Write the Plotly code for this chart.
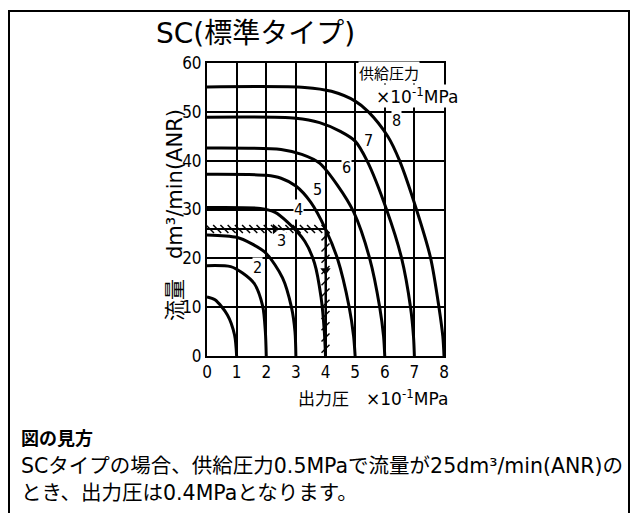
import plotly.graph_objects as go
import numpy as np

# ---- data ----
supply_labels = ["1", "2", "3", "4", "5", "6", "7", "8"]

c1_x = [0, 0.27, 0.69, 0.93, 1.0]
c1_y = [12.1, 11.5, 8.4, 4.3, 0]
c2_x = [0, 0.8, 1.2, 1.6, 1.88, 1.97, 2.0]
c2_y = [18.5, 18.3, 17.0, 14.8, 10.2, 5.0, 0]
c3_x = [0, 1.0, 1.5, 2.0, 2.55, 2.85, 2.97, 3.0]
c3_y = [24.8, 24.3, 23.0, 21.0, 16.0, 10.0, 5.0, 0]
c4_x = [0, 1.8, 2.3, 2.7, 3.3, 3.63, 3.85, 3.96, 4.0]
c4_y = [30.4, 30.2, 29.4, 27.5, 23.5, 19.0, 12.0, 5.0, 0]
c5_x = [0, 2.0, 2.5, 3.0, 3.5, 4.0, 4.4, 4.8, 4.95, 5.0]
c5_y = [37.2, 37.0, 36.4, 34.8, 31.5, 26.0, 20.0, 10.0, 4.0, 0]
c6_x = [0, 2.5, 3.2, 3.8, 4.4, 4.95, 5.49, 5.83, 5.96, 6.0]
c6_y = [42.6, 42.3, 41.3, 39.5, 35.0, 29.5, 20.0, 10.0, 4.0, 0]
c7_x = [0, 3.0, 3.8, 4.5, 5.0, 5.4, 6.06, 6.57, 6.87, 6.97, 7.0]
c7_y = [48.9, 48.7, 47.8, 46.0, 44.0, 40.0, 30.0, 20.0, 10.0, 4.0, 0]
c8_x = [0, 3.3, 4.2, 5.0, 5.45, 6.1, 6.5, 7.07, 7.55, 7.83, 7.96, 8.0]
c8_y = [55.1, 55.0, 54.2, 52.2, 50.0, 45.0, 40.0, 30.0, 20.0, 10.0, 4.0, 0]

curve_xs = [c1_x, c2_x, c3_x, c4_x, c5_x, c6_x, c7_x, c8_x]
curve_ys = [c1_y, c2_y, c3_y, c4_y, c5_y, c6_y, c7_y, c8_y]

# curve number label positions
label_x = [None, 1.72, 2.52, 3.1, 3.73, 4.7, 5.45, 6.4]
label_y = [None, 18.2, 23.7, 29.9, 34.0, 38.7, 44.2, 48.3]

# example reading path (flow 25 -> output pressure 0.4 MPa)
example_x = [0, 4, 4]
example_y = [26, 26, 0]

x_ticks = [0, 1, 2, 3, 4, 5, 6, 7, 8]
y_ticks = [0, 10, 20, 30, 40, 50, 60]

NARROW = "Liberation Sans Narrow, DejaVu Sans Condensed, Arial Narrow, sans-serif"
JP = "DejaVu Sans, Noto Sans CJK JP, sans-serif"
JPN = "Noto Sans CJK JP, sans-serif"

# page body has an 8px margin in the browser
OFF = 8
W, H = 639 - OFF, 513 - OFF
PL, PR, PT, PB = 207 - OFF, 444 - OFF, 63 - OFF, 356 - OFF   # plot area in figure px


def px(xp):
    return (xp - OFF - PL) / (PR - PL)


def py(yp):
    return (PB - (yp - OFF)) / (PB - PT)


fig = go.Figure()

for xs, ys in zip(curve_xs, curve_ys):
    fig.add_trace(go.Scatter(x=xs, y=ys, mode="lines",
                             line=dict(color="black", width=3, shape="spline", smoothing=0.8),
                             cliponaxis=False, showlegend=False, hoverinfo="skip"))

# example path line
fig.add_trace(go.Scatter(x=example_x, y=example_y, mode="lines",
                         line=dict(color="black", width=2),
                         cliponaxis=False, showlegend=False, hoverinfo="skip"))
# hatch ticks along the path
hx = np.linspace(example_x[0] + 0.1, example_x[1], 17)
fig.add_trace(go.Scatter(x=hx, y=[example_y[0]] * len(hx), mode="markers",
                         marker=dict(symbol="line-nw", size=8, line=dict(color="black", width=1.5)),
                         cliponaxis=False, showlegend=False, hoverinfo="skip"))
vy = np.linspace(example_y[1] - 1.5, 1.5, 11)
fig.add_trace(go.Scatter(x=[example_x[1]] * len(vy), y=vy, mode="markers",
                         marker=dict(symbol="line-ne", size=8, line=dict(color="black", width=1.5)),
                         cliponaxis=False, showlegend=False, hoverinfo="skip"))
# arrow heads
fig.add_trace(go.Scatter(x=[2.3], y=[example_y[0]], mode="markers",
                         marker=dict(symbol="triangle-right", size=9, color="black"),
                         showlegend=False, hoverinfo="skip"))
fig.add_trace(go.Scatter(x=[example_x[1]], y=[17.5], mode="markers",
                         marker=dict(symbol="triangle-down", size=9, color="black"),
                         showlegend=False, hoverinfo="skip"))

annotations = []
for lab, lx, ly in zip(supply_labels, label_x, label_y):
    if lx is None:
        continue
    annotations.append(dict(x=lx, y=ly, text=lab, showarrow=False,
                            xanchor="center", yanchor="middle",
                            font=dict(family=NARROW, size=16, color="black"),
                            bgcolor="white", borderpad=0))


def note(xp, yp, text, family, size, xanchor="center", **kw):
    return dict(x=px(xp), y=py(yp), xref="paper", yref="paper", text=text,
                showarrow=False, xanchor=xanchor, yanchor="middle",
                font=dict(family=family, size=size, color="black"), **kw)


annotations += [
    note(255, 33, "SC(標準タイプ)", JP, 28),
    note(389, 72, "供給圧力", JPN, 15, bgcolor="white", borderpad=0),
    note(375, 96, "×10<sup>-1</sup>MPa", JP, 17, xanchor="left", bgcolor="white", borderpad=0),
    note(175, 215, "流量   dm³/min(ANR)", JP, 21, textangle=-90),
    note(296, 398, "出力圧　×10<sup>-1</sup>MPa", JP, 17, xanchor="left"),
    note(19, 437, "<b>図の見方</b>", JPN, 18, xanchor="left"),
    note(19, 466, "SCタイプの場合、供給圧力0.5MPaで流量が25dm³/min(ANR)の", JP, 20.5, xanchor="left"),
    note(19, 493, "とき、出力圧は0.4MPaとなります。", JP, 20.5, xanchor="left"),
]

fig.update_layout(
    width=W, height=H,
    margin=dict(l=PL, r=W - PR, t=PT, b=H - PB, autoexpand=False),
    paper_bgcolor="white", plot_bgcolor="white",
    xaxis=dict(range=[0, 8], tickvals=x_ticks, ticktext=[str(v) for v in x_ticks],
               showgrid=True, gridcolor="black", gridwidth=2,
               showline=True, linecolor="black", linewidth=2, mirror=True,
               zeroline=False, ticks="", ticklen=0,
               tickfont=dict(family=NARROW, size=17, color="black")),
    yaxis=dict(range=[0, 60], tickvals=y_ticks, ticktext=[str(v) for v in y_ticks],
               showgrid=True, gridcolor="black", gridwidth=2,
               showline=True, linecolor="black", linewidth=2, mirror=True,
               zeroline=False, ticks="", ticklen=0,
               tickfont=dict(family=NARROW, size=17, color="black")),
    showlegend=False,
    annotations=annotations,
)

fig.add_shape(type="rect", xref="paper", yref="paper",
              x0=px(9), x1=px(629), y0=py(540), y1=py(11),
              line=dict(color="black", width=2), fillcolor="rgba(0,0,0,0)", layer="below")

fig.write_html("out.html")
